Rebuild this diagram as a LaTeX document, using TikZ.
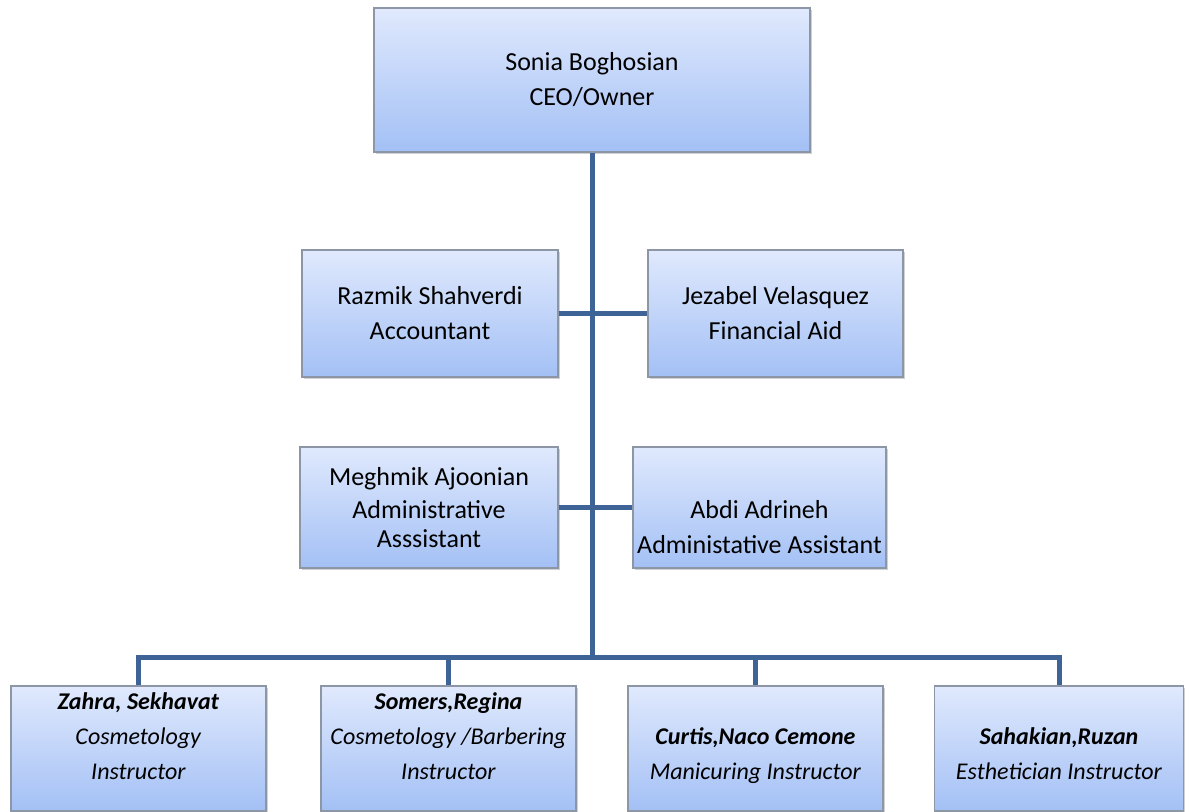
\documentclass[tikz,border=0pt]{standalone}
\usepackage{fontspec}
\setmainfont{Carlito}
\usetikzlibrary{positioning,shadows}
\definecolor{boxtop}{RGB}{224,233,253}
\definecolor{boxbot}{RGB}{163,192,245}
\definecolor{boxline}{RGB}{140,150,165}
\definecolor{link}{RGB}{62,99,150}
\tikzset{
  staff/.style={draw=boxline,line width=0.6pt,top color=boxtop,bottom color=boxbot,
    align=center,inner sep=0pt,font=\fontsize{13}{17.5}\selectfont,
    drop shadow={shadow xshift=1pt,shadow yshift=-1.2pt,opacity=0.3,fill=black!60}},
  who/.style={align=center,inner sep=0pt,font=\fontsize{12}{17.5}\selectfont},
  wire/.style={link,line width=2.5pt}
}
\begin{document}
\begin{tikzpicture}[x=0.5pt,y=-0.5pt]
			\useasboundingbox (0,0) rectangle (1185,812);
			% top
			\node[staff,minimum width=218pt,minimum height=72pt] (ceo) at (592,80) {Sonia Boghosian\\CEO/Owner};
			% office
			\node[staff,minimum width=128pt,minimum height=63.5pt] (razmik) at (430,313.5) {Razmik Shahverdi\\Accountant};
			\node[staff,minimum width=127.5pt,minimum height=63.5pt] (jezabel) at (775.5,313.5) {Jezabel Velasquez\\Financial Aid};
			\node[staff,minimum width=129pt,minimum height=60.5pt] (meghmik) at (429,507.5) {Meghmik Ajoonian\\[-1pt]Administrative\\[-3pt]Asssistant};
			\node[staff,minimum width=126.5pt,minimum height=60.5pt] (abdi) at (759.5,507.5) {\strut\\[-1pt]Abdi Adrineh\\Administative Assistant};
			% instructors
			\node[staff,minimum width=127.5pt,minimum height=62.5pt] (zahra) at (138.5,748.5) {};
			\node[staff,minimum width=127.5pt,minimum height=62.5pt] (somers) at (448.5,748.5) {};
			\node[staff,minimum width=127.5pt,minimum height=62.5pt] (curtis) at (755.5,748.5) {};
			\node[staff,minimum width=124.5pt,minimum height=62.5pt] (sahakian) at (1059,748.5) {};
			\node[who,below=-0.5pt of zahra.north] (zahratext) {\strut\textbf{\itshape Zahra, Sekhavat}\\\textit{Cosmetology}\\\textit{Instructor}};
			\node[who,below=-0.5pt of somers.north] (somerstext) {\strut\textbf{\itshape Somers,Regina}\\\textit{Cosmetology /Barbering}\\\textit{Instructor}};
			\node[who,below=-0.5pt of curtis.north] (curtistext) {\strut\\\textbf{\itshape Curtis,Naco Cemone}\\\textit{Manicuring Instructor}};
			\node[who,below=-0.5pt of sahakian.north] (sahakiantext) {\strut\\\textbf{\itshape Sahakian,Ruzan}\\\textit{Esthetician Instructor}};
			% lines
			\coordinate (bus) at (592,658);
			\draw[wire] (ceo.south) -- ([yshift=-1.2pt]bus);
			\draw[wire] (razmik.east) -- (jezabel.west);
			\draw[wire] (meghmik.east) -- (abdi.west);
			\draw[wire] (zahra.north) |- (bus) -| (sahakian.north);
			\draw[wire] (somers.north) -- (somers.north |- bus);
			\draw[wire] (curtis.north) -- (curtis.north |- bus);
\end{tikzpicture}
\end{document}
